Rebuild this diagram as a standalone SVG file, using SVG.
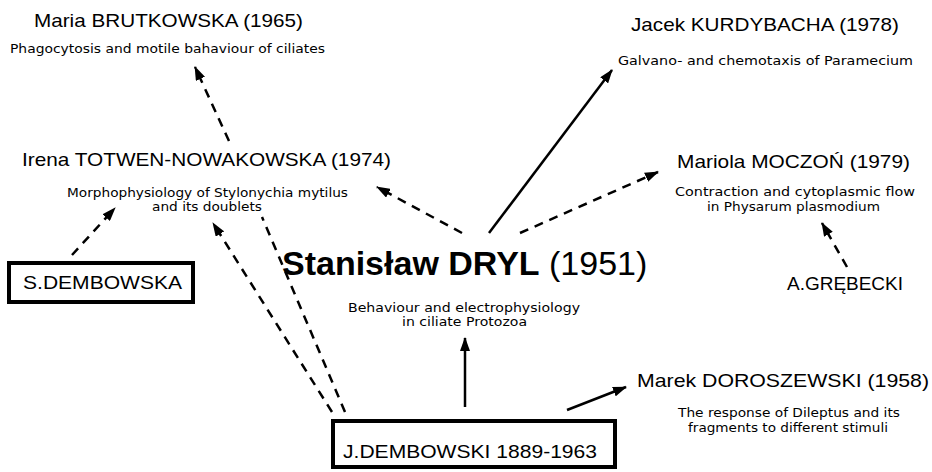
<svg xmlns="http://www.w3.org/2000/svg" width="932" height="472" viewBox="0 0 932 472">
<defs>
<style>
.h{font-family:"Liberation Sans",Arial,sans-serif;font-size:19px;fill:#000}
.s{font-family:"DejaVu Sans","Liberation Sans",sans-serif;font-size:11.5px;fill:#000}
.c{stroke:#000;stroke-width:2.5;fill:none}
.d{stroke-dasharray:9 7}
.box{fill:#fff;stroke:#000;stroke-width:4}
</style>
<marker id="ah" viewBox="0 0 14 10" refX="13" refY="5" markerWidth="14" markerHeight="10" markerUnits="userSpaceOnUse" orient="auto">
<path d="M0,0 L14,5 L0,10 z" fill="#000"/>
</marker>
</defs>
<rect width="932" height="472" fill="#fff"/>
<g id="connectors">
<line class="c d" x1="229" y1="141" x2="195" y2="67" marker-end="url(#ah)"/>
<line class="c d" x1="72" y1="255" x2="115" y2="208" marker-end="url(#ah)"/>
<line class="c d" x1="332" y1="412" x2="213" y2="223" marker-end="url(#ah)"/>
<line class="c d" x1="345" y1="412" x2="262" y2="217"/>
<line class="c d" x1="462" y1="233" x2="377" y2="187" marker-end="url(#ah)"/>
<line class="c" x1="489" y1="233" x2="612" y2="70" marker-end="url(#ah)"/>
<line class="c d" x1="520" y1="233" x2="658" y2="172" marker-end="url(#ah)"/>
<line class="c d" x1="847" y1="267" x2="822" y2="223" marker-end="url(#ah)"/>
<line class="c" x1="465" y1="407" x2="465" y2="338" marker-end="url(#ah)"/>
<line class="c" x1="567" y1="410" x2="626" y2="387" marker-end="url(#ah)"/>
</g>
<g id="brutkowska">
<text class="h" x="34" y="27" textLength="269" lengthAdjust="spacingAndGlyphs">Maria BRUTKOWSKA (1965)</text>
<text class="s" x="10" y="53" textLength="315" lengthAdjust="spacingAndGlyphs">Phagocytosis and motile bahaviour of ciliates</text>
</g>
<g id="kurdybacha">
<text class="h" x="631" y="31" textLength="268" lengthAdjust="spacingAndGlyphs">Jacek KURDYBACHA (1978)</text>
<text class="s" x="618" y="65" textLength="295" lengthAdjust="spacingAndGlyphs">Galvano- and chemotaxis of Paramecium</text>
</g>
<g id="totwen">
<text class="h" x="22" y="166" textLength="369" lengthAdjust="spacingAndGlyphs">Irena TOTWEN-NOWAKOWSKA (1974)</text>
<text class="s" x="67" y="197" textLength="281" lengthAdjust="spacingAndGlyphs">Morphophysiology of Stylonychia mytilus</text>
<text class="s" x="152" y="211" textLength="110" lengthAdjust="spacingAndGlyphs">and its doublets</text>
</g>
<g id="moczon">
<text class="h" x="677" y="168" textLength="233" lengthAdjust="spacingAndGlyphs">Mariola MOCZOŃ (1979)</text>
<text class="s" x="675" y="196" textLength="240" lengthAdjust="spacingAndGlyphs">Contraction and cytoplasmic flow</text>
<text class="s" x="707" y="211" textLength="173" lengthAdjust="spacingAndGlyphs">in Physarum plasmodium</text>
</g>
<g id="sdembowska">
<rect class="box" x="9" y="263" width="184" height="39"/>
<text class="h" x="23" y="289" textLength="159" lengthAdjust="spacingAndGlyphs">S.DEMBOWSKA</text>
</g>
<g id="dryl">
<text x="282" y="275" font-family="Liberation Sans,Arial,sans-serif" font-size="34" fill="#000"><tspan font-weight="bold">Stanisław DRYL</tspan> (1951)</text>
<text class="s" x="348" y="312" textLength="232" lengthAdjust="spacingAndGlyphs">Behaviour and electrophysiology</text>
<text class="s" x="402" y="326" textLength="125" lengthAdjust="spacingAndGlyphs">in ciliate Protozoa</text>
</g>
<g id="grebecki">
<text class="h" x="787" y="290" textLength="116" lengthAdjust="spacingAndGlyphs">A.GRĘBECKI</text>
</g>
<g id="jdembowski">
<rect class="box" x="333" y="421" width="282" height="46"/>
<text class="h" x="343" y="458" textLength="254" lengthAdjust="spacingAndGlyphs" font-size="20">J.DEMBOWSKI 1889-1963</text>
</g>
<g id="doroszewski">
<text class="h" x="637" y="387" textLength="292" lengthAdjust="spacingAndGlyphs" font-size="20">Marek DOROSZEWSKI (1958)</text>
<text class="s" x="678" y="417" textLength="222" lengthAdjust="spacingAndGlyphs">The response of Dileptus and its</text>
<text class="s" x="688" y="432" textLength="200" lengthAdjust="spacingAndGlyphs">fragments to different stimuli</text>
</g>
</svg>
